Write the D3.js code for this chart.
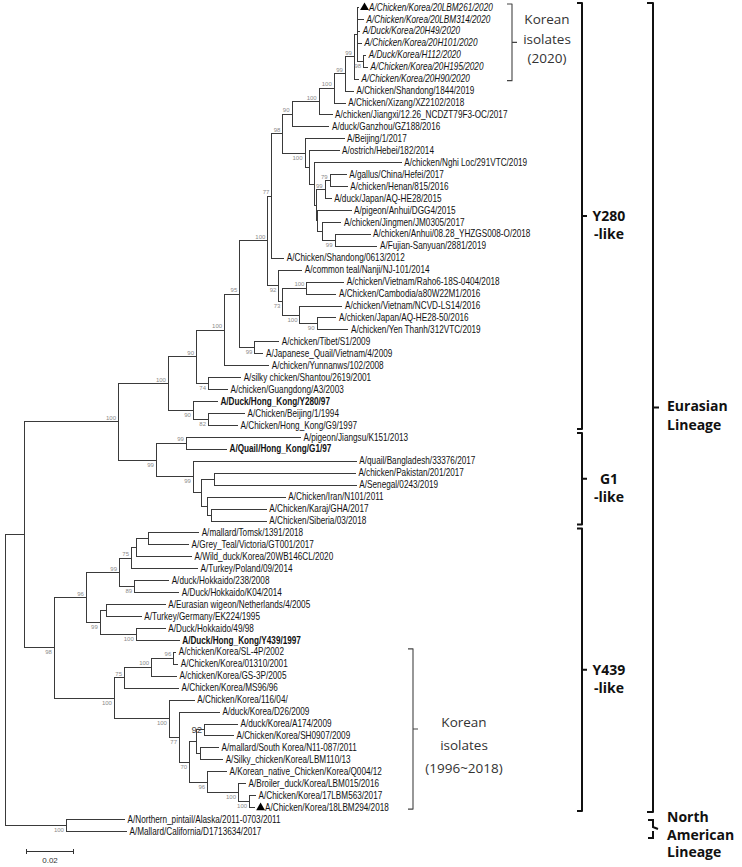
<!DOCTYPE html>
<html><head><meta charset="utf-8">
<script src="https://cdn.jsdelivr.net/npm/d3@7"></script>
<style>body{margin:0;background:#fff}</style>
</head><body>
<svg id="chart" width="742" height="867"></svg>
<script>
// ---------- DATA ----------
const leafNames = [
 "A/Chicken/Korea/20LBM261/2020","A/Chicken/Korea/20LBM314/2020","A/Duck/Korea/20H49/2020","A/Chicken/Korea/20H101/2020",
 "A/Duck/Korea/H112/2020","A/Chicken/Korea/20H195/2020","A/Chicken/Korea/20H90/2020","A/Chicken/Shandong/1844/2019",
 "A/Chicken/Xizang/XZ2102/2018","A/chicken/Jiangxi/12.26_NCDZT79F3-OC/2017","A/duck/Ganzhou/GZ188/2016","A/Beijing/1/2017",
 "A/ostrich/Hebei/182/2014","A/chicken/Nghi Loc/291VTC/2019","A/gallus/China/Hefei/2017","A/chicken/Henan/815/2016",
 "A/duck/Japan/AQ-HE28/2015","A/pigeon/Anhui/DGG4/2015","A/chicken/Jingmen/JM0305/2017","A/chicken/Anhui/08.28_YHZGS008-O/2018",
 "A/Fujian-Sanyuan/2881/2019","A/Chicken/Shandong/0613/2012","A/common teal/Nanji/NJ-101/2014","A/chicken/Vietnam/Raho6-18S-0404/2018",
 "A/Chicken/Cambodia/a80W22M1/2016","A/chicken/Vietnam/NCVD-LS14/2016","A/chicken/Japan/AQ-HE28-50/2016","A/chicken/Yen Thanh/312VTC/2019",
 "A/chicken/Tibet/S1/2009","A/Japanese_Quail/Vietnam/4/2009","A/chicken/Yunnanws/102/2008","A/silky chicken/Shantou/2619/2001",
 "A/chicken/Guangdong/A3/2003","A/Duck/Hong_Kong/Y280/97","A/Chicken/Beijing/1/1994","A/Chicken/Hong_Kong/G9/1997",
 "A/pigeon/Jiangsu/K151/2013","A/Quail/Hong_Kong/G1/97","A/quail/Bangladesh/33376/2017","A/chicken/Pakistan/201/2017",
 "A/Senegal/0243/2019","A/Chicken/Iran/N101/2011","A/Chicken/Karaj/GHA/2017","A/Chicken/Siberia/03/2018",
 "A/mallard/Tomsk/1391/2018","A/Grey_Teal/Victoria/GT001/2017","A/Wild_duck/Korea/20WB146CL/2020","A/Turkey/Poland/09/2014",
 "A/duck/Hokkaido/238/2008","A/Duck/Hokkaido/K04/2014","A/Eurasian wigeon/Netherlands/4/2005","A/Turkey/Germany/EK224/1995",
 "A/Duck/Hokkaido/49/98","A/Duck/Hong_Kong/Y439/1997","A/chicken/Korea/SL-4P/2002","A/Chicken/Korea/01310/2001",
 "A/chicken/Korea/GS-3P/2005","A/Chicken/Korea/MS96/96","A/Chicken/Korea/116/04/","A/duck/Korea/D26/2009",
 "A/duck/Korea/A174/2009","A/Chicken/Korea/SH0907/2009","A/mallard/South Korea/N11-087/2011","A/Silky_chicken/Korea/LBM110/13",
 "A/Korean_native_Chicken/Korea/Q004/12","A/Broiler_duck/Korea/LBM015/2016","A/Chicken/Korea/17LBM563/2017","A/Chicken/Korea/18LBM294/2018",
 "A/Northern_pintail/Alaska/2011-0703/2011","A/Mallard/California/D1713634/2017"
];
const leafParents = [
 "Gk","Gk","Gk","Gk","K56","K56","K","Y","X","J","H","B","C","D","E","E","F","Mn","H2","G2","G2","P","R","T","T","U","V","V",
 "X2","X2","V2","SG","SG","Y280g","BG","BG","G1a","G1a","G1c","PS","PS","IKS","KS","KS",
 "TG","TG","TGW","TGWP","Hok","Hok","WG","WG","HY","HY","Ka2","Ka2","Ka1","Ka","Kb","K77","K92","K92","KMS","KMS","Ke","KBr","K17","K17",
 "NorthAm","NorthAm"
];
const leafLengths = [
 0.0008,0.0029,0.0013,0.0021,0.0013,0.0021,0.0021,0.0038,0.0050,0.0058,0.0158,0.0167,0.0129,0.0367,0.0071,0.0075,0.0029,0.0142,0.0083,0.0150,0.0179,
 0.0054,0.0100,0.0158,0.0125,0.0179,0.0083,0.0133,0.0104,0.0038,0.0188,0.0138,0.0083,0.0104,0.0154,0.0125,
 0.0479,0.0171,0.0683,0.0592,0.0596,0.0329,0.0233,0.0233,
 0.0213,0.0171,0.0233,0.0279,0.0146,0.0188,0.0250,0.0150,0.0125,0.0183,0.0013,0.0021,0.0108,0.0229,0.0108,0.0171,
 0.0142,0.0125,0.0079,0.0096,0.0083,0.0033,0.0029,0.0025,0.0246,0.0254
];
const nodeIds = ["root","Eurasian","NorthAm","A","Y439c","T2","G1b","U2","Y280g","V2","SG","W","Q","X2","P","R","I","H","B","J","X","Y","K","Gk","K56",
 "C","D","Fn","F","E","Mn","H2","G2","S","T","U","V","BG","G1a","G1c","G1d","PS","IKS","KS",
 "N96","K439","M1","M2","TGWP","TGW","TG","Hok","WG","HY","Ka","Ka1","Ka2","Kb","K77","K70","Kd","K92","KMS","Ke","KBr","K17"];
const nodeParents = [null,"root","root","Eurasian","Eurasian","A","A","T2","T2","U2","U2","V2","W","W","Q","Q","P","I","I","H","J","X","Y","K","Gk",
 "B","C","D","Fn","F","Fn","Mn","H2","R","S","S","U","Y280g","G1b","G1b","G1c","G1d","G1d","IKS",
 "Y439c","Y439c","N96","N96","M1","TGWP","TGW","M1","M2","M2","K439","Ka","Ka1","K439","Kb","K77","K70","Kd","Kd","K70","Ke","KBr"];
const nodeLengths = [0,0.0079,0.0254,0.0392,0.0125,0.0208,0.0158,0.0117,0.0104,0.0117,0.0050,0.0063,0.0117,0.0063,0.0017,0.0046,0.0046,0.0038,0.0092,0.0113,0.0063,0.0046,0.0038,0.0013,0.0025,
 0.0017,0.0021,0.0008,0.0038,0.0021,0.0008,0.0017,0.0054,0.0017,0.0100,0.0071,0.0071,0.0063,0.0125,0.0154,0.0033,0.0054,0.0025,0.0017,
 0.0133,0.0250,0.0138,0.0058,0.0050,0.0021,0.0050,0.0063,0.0025,0.0150,0.0042,0.0113,0.0092,0.0229,0.0042,0.0042,0.0029,0.0033,0.0017,0.0075,0.0129,0.0046];
const nodeSupport = [null,null,100,100,98,100,99,90,90,100,74,95,100,99,77,92,98,90,100,100,100,99,99,null,98,
 null,null,null,99,79,null,null,99,73,100,100,90,82,99,99,null,null,null,null,
 96,100,99,99,75,null,null,89,null,100,75,100,96,100,77,70,null,92,null,96,100,100];
const referenceStrains = ["A/Duck/Hong_Kong/Y280/97","A/Quail/Hong_Kong/G1/97","A/Duck/Hong_Kong/Y439/1997"];
const markedStrains = ["A/Chicken/Korea/20LBM261/2020","A/Chicken/Korea/18LBM294/2018"];
const italicClade = "K";
const scaleBarValue = 0.02;
const subgroupLabels = [["Korean","isolates","(2020)"],["Korean","isolates","(1996~2018)"]];
const subgroupSpans = [["A/Chicken/Korea/20LBM261/2020","A/Chicken/Korea/20H90/2020"],["A/chicken/Korea/SL-4P/2002","A/Chicken/Korea/18LBM294/2018"]];
const lineageLabels = [["Y280","-like"],["G1","-like"],["Y439","-like"]];
const lineageSpans = [["A/Chicken/Korea/20LBM261/2020","A/Chicken/Hong_Kong/G9/1997"],["A/pigeon/Jiangsu/K151/2013","A/Chicken/Siberia/03/2018"],["A/mallard/Tomsk/1391/2018","A/Chicken/Korea/18LBM294/2018"]];
const majorLabels = [["Eurasian","Lineage"],["North","American","Lineage"]];
const majorSpans = [["A/Chicken/Korea/20LBM261/2020","A/Chicken/Korea/18LBM294/2018"],["A/Northern_pintail/Alaska/2011-0703/2011","A/Mallard/California/D1713634/2017"]];

// ---------- LAYOUT ----------
const svg = d3.select("#chart");
const rows = nodeIds.map((id,i)=>({id, parent:nodeParents[i], len:nodeLengths[i], support:nodeSupport[i]}))
  .concat(leafNames.map((n,i)=>({id:n, parent:leafParents[i], len:leafLengths[i], leaf:true})));
const root = d3.stratify().id(d=>d.id).parentId(d=>d.parent)(rows);
root.eachBefore(n=>{ n.dist = n.parent ? n.parent.dist + n.data.len : 0; });
const xs = d3.scaleLinear().domain([0, 0.02]).range([5, 53]);
const ys = d3.scalePoint().domain(leafNames).range([7, 831]);
root.eachAfter(n=>{
  if(!n.children){ n.yy = ys(n.id); }
  else { const e = d3.extent(n.children, c=>c.yy); n.ya=e[0]; n.yb=e[1]; n.yy=(e[0]+e[1])/2; }
});
const nodes = root.descendants();
const italicSet = new Set(nodes.find(n=>n.id===italicClade).leaves().map(l=>l.id));

const g = svg.append("g").attr("stroke","#3a3a3a").attr("stroke-width",1).attr("fill","none").attr("shape-rendering","crispEdges");
g.selectAll("line.h").data(nodes.filter(n=>n.parent)).join("line")
  .attr("x1",n=>xs(n.parent.dist)).attr("x2",n=>xs(n.dist))
  .attr("y1",n=>Math.round(n.yy)+0.5).attr("y2",n=>Math.round(n.yy)+0.5);
g.selectAll("line.v").data(nodes.filter(n=>n.children)).join("line")
  .attr("x1",n=>Math.round(xs(n.dist))+0.5).attr("x2",n=>Math.round(xs(n.dist))+0.5)
  .attr("y1",n=>Math.round(n.ya)+0.5).attr("y2",n=>Math.round(n.yb)+0.5);

// bootstrap values
const big = new Set(["K92"]);
svg.append("g").selectAll("text").data(nodes.filter(n=>n.data.support!=null)).join("text")
  .attr("text-anchor","end")
  .attr("font-family","'Liberation Sans', Arial, sans-serif")
  .attr("font-size",n=>big.has(n.id)?9.5:6)
  .attr("fill",n=>big.has(n.id)?"#444":"#8a8a8a")
  .attr("x",n=>xs(n.dist)-2)
  .attr("y",n=>{ if(big.has(n.id)) return n.yy+4; return (n.parent && n.yy < n.parent.yy) ? n.yy-1.5 : n.yy+7; })
  .text(n=>n.data.support);

// leaf labels
const leaves = root.leaves();
const markSet = new Set(markedStrains), refSet = new Set(referenceStrains);
svg.append("g").selectAll("path").data(leaves.filter(l=>markSet.has(l.id))).join("path")
  .attr("d", d3.symbol(d3.symbolTriangle, 34))
  .attr("fill","#000")
  .attr("transform", l=>`translate(${xs(l.dist)+5.5},${l.yy+0.5})`);
svg.append("g").selectAll("text").data(leaves).join("text")
  .attr("font-family","'Liberation Sans', Arial, sans-serif")
  .attr("font-size",10)
  .attr("fill","#111")
  .attr("font-weight",l=>refSet.has(l.id)?"bold":"normal")
  .attr("font-style",l=>italicSet.has(l.id)?"italic":"normal")
  .attr("transform",l=>`translate(${xs(l.dist)+(markSet.has(l.id)?10:2.5)},${l.yy+3.6}) scale(0.82,1)`)
  .text(l=>l.id);

// ---------- BRACKETS ----------
function bracket(x, y1, y2, w, sw, color, midY){
  const p = d3.path();
  p.moveTo(x-w, y1); p.lineTo(x, y1); p.lineTo(x, y2); p.lineTo(x-w, y2);
  p.moveTo(x, midY); p.lineTo(x+w, midY);
  svg.append("path").attr("d",p.toString()).attr("fill","none").attr("stroke",color).attr("stroke-width",sw)
    .attr("stroke-linejoin","round");
}
function multiline(lines, x, y0, dy, opts){
  const t = svg.append("text").attr("font-family","'Open Sans','Noto Sans',sans-serif")
    .attr("font-size",opts.size).attr("font-weight",opts.weight).attr("fill",opts.color)
    .attr("text-anchor",opts.anchor);
  lines.forEach((s,i)=>t.append("tspan").attr("x",x).attr("y",y0+i*dy).text(s));
}
// sub-groups (Korean isolates)
const subX = [512, 413], subTextX = [547, 464], subTextOff = [-18, -2], subTextDy = [19.5, 23];
subgroupSpans.forEach((s,i)=>{
  const y1 = ys(s[0])-3, y2 = ys(s[1])+2, mid=(y1+y2)/2;
  bracket(subX[i], y1, y2, 5, 1.1, "#444", mid);
  multiline(subgroupLabels[i], subTextX[i], mid+subTextOff[i], subTextDy[i], {size:13.5, weight:400, color:"#333", anchor:"middle"});
});
// lineage-like groups
lineageSpans.forEach((s,i)=>{
  const y1 = ys(s[0])-4, y2 = ys(s[1])+4, mid=(y1+y2)/2;
  bracket(582, y1, y2, 5, 2, "#111", mid);
  multiline(lineageLabels[i], 609, mid+5, 18, {size:14, weight:700, color:"#111", anchor:"middle"});
});
// major lineages
{
  const s = majorSpans[0]; const y1 = ys(s[0])-4, y2 = ys(s[1])+5, mid=(y1+y2)/2;
  bracket(653, y1, y2, 6, 2, "#111", mid);
  multiline(majorLabels[0], 667, mid+3, 19, {size:14, weight:700, color:"#111", anchor:"start"});
  const s2 = majorSpans[1]; const a = ys(s2[0])+1, b = ys(s2[1])+7, m=(a+b)/2;
  const p = d3.path();
  p.moveTo(648,a); p.lineTo(653,a); p.lineTo(653,m-2); p.lineTo(658,m);
  p.moveTo(653,m+2); p.lineTo(653,b); p.lineTo(648,b);
  svg.append("path").attr("d",p.toString()).attr("fill","none").attr("stroke","#111").attr("stroke-width",2);
  multiline(majorLabels[1], 667, m-7, 17.5, {size:14, weight:700, color:"#111", anchor:"start"});
}

// ---------- SCALE BAR ----------
const sbx = 26, sby = 851, sbw = xs(scaleBarValue)-xs(0);
const sb = svg.append("g").attr("stroke","#333").attr("stroke-width",1);
sb.append("line").attr("x1",sbx).attr("x2",sbx+sbw).attr("y1",sby+0.5).attr("y2",sby+0.5);
sb.append("line").attr("x1",sbx+0.5).attr("x2",sbx+0.5).attr("y1",sby-2).attr("y2",sby+3);
sb.append("line").attr("x1",sbx+sbw-0.5).attr("x2",sbx+sbw-0.5).attr("y1",sby-2).attr("y2",sby+3);
svg.append("text").attr("x",sbx+sbw/2).attr("y",sby+12).attr("text-anchor","middle")
  .attr("font-family","'Liberation Sans', Arial, sans-serif").attr("font-size",8).attr("fill","#333")
  .text(scaleBarValue);
</script>
</body></html>
